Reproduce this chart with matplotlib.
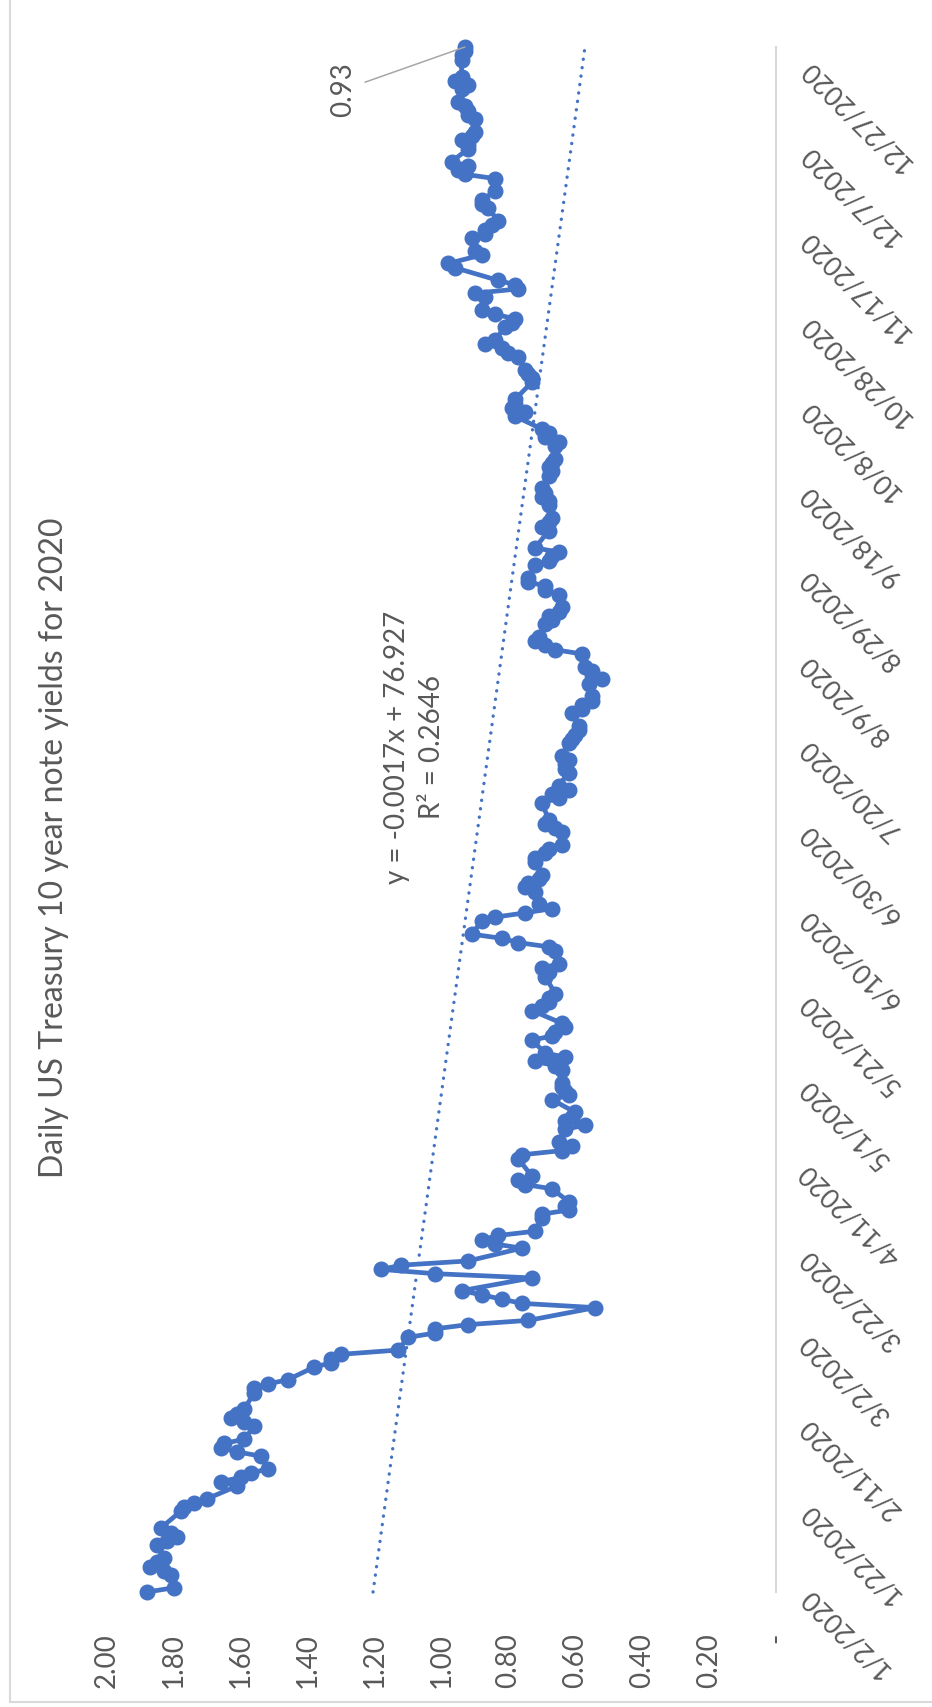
import numpy as np
import pandas as pd
import matplotlib
matplotlib.use('Agg')
import matplotlib.pyplot as plt
from matplotlib.lines import Line2D

plt.rcParams['font.family'] = ['Lato', 'DejaVu Sans']

# daily 10 year note yields (%), one list per month of trading days
jan = [1.88, 1.80, 1.81, 1.83, 1.87, 1.85, 1.83, 1.85, 1.82, 1.79, 1.81, 1.84,
       1.78, 1.77, 1.74, 1.70, 1.61, 1.66, 1.60, 1.57, 1.52]
feb = [1.54, 1.61, 1.66, 1.65, 1.59, 1.56, 1.59, 1.63, 1.61, 1.59, 1.56, 1.56,
       1.52, 1.46, 1.38, 1.33, 1.33, 1.30, 1.13]
mar = [1.10, 1.02, 1.02, 0.92, 0.74, 0.54, 0.76, 0.82, 0.88, 0.94, 0.73, 1.02,
       1.18, 1.12, 0.92, 0.76, 0.84, 0.88, 0.83, 0.72, 0.70, 0.70]
apr = [0.62, 0.63, 0.62, 0.67, 0.75, 0.77, 0.73, 0.77, 0.76, 0.64, 0.61, 0.65,
       0.63, 0.57, 0.63, 0.61, 0.60, 0.67, 0.62, 0.63, 0.64]
may = [0.64, 0.64, 0.66, 0.72, 0.63, 0.69, 0.73, 0.67, 0.66, 0.63, 0.64, 0.73,
       0.70, 0.68, 0.68, 0.66, 0.69, 0.68, 0.70, 0.65]
jun = [0.66, 0.68, 0.77, 0.82, 0.91, 0.88, 0.84, 0.75, 0.67, 0.71, 0.72, 0.75,
       0.74, 0.71, 0.70, 0.72, 0.72, 0.69, 0.68, 0.64, 0.64, 0.66]
jul = [0.69, 0.68, 0.70, 0.65, 0.67, 0.62, 0.65, 0.62, 0.63, 0.63, 0.62, 0.64,
       0.62, 0.61, 0.60, 0.59, 0.59, 0.61, 0.58, 0.58, 0.55, 0.55]
aug = [0.56, 0.52, 0.55, 0.55, 0.57, 0.58, 0.66, 0.69, 0.72, 0.71, 0.69, 0.67,
       0.68, 0.65, 0.64, 0.65, 0.69, 0.69, 0.74, 0.74, 0.72]
sep = [0.68, 0.67, 0.65, 0.72, 0.68, 0.70, 0.68, 0.67, 0.68, 0.68, 0.70, 0.69,
       0.70, 0.68, 0.67, 0.68, 0.67, 0.66, 0.66, 0.65, 0.69]
oct_ = [0.68, 0.70, 0.78, 0.75, 0.79, 0.78, 0.78, 0.73, 0.73, 0.74, 0.75, 0.77,
        0.80, 0.82, 0.87, 0.84, 0.81, 0.79, 0.78, 0.84, 0.88]
nov = [0.87, 0.90, 0.77, 0.78, 0.83, 0.96, 0.98, 0.88, 0.90, 0.91, 0.87, 0.87,
       0.85, 0.83, 0.86, 0.88, 0.88, 0.84, 0.84]
dec = [0.93, 0.95, 0.92, 0.97, 0.92, 0.92, 0.94, 0.91, 0.90, 0.90, 0.92, 0.92,
       0.93, 0.95, 0.94, 0.92, 0.96, 0.94, 0.94, 0.94, 0.93, 0.93]

# bond market closed on these weekdays
holidays = ['2020-01-20', '2020-02-17', '2020-04-10', '2020-05-25', '2020-07-03',
            '2020-09-07', '2020-10-12', '2020-11-11', '2020-11-26', '2020-12-25']

value_ticks = [0.0, 0.2, 0.4, 0.6, 0.8, 1.0, 1.2, 1.4, 1.6, 1.8, 2.0]
date_ticks = pd.date_range('2020-01-02', '2020-12-27', freq='20D')

yields = np.array(jan + feb + mar + apr + may + jun + jul + aug + sep + oct_ + nov + dec)
days = pd.bdate_range('2020-01-02', '2020-12-31')
days = days[~days.isin(pd.to_datetime(holidays))]

blue = '#4472C4'
grey = '#595959'

fig = plt.figure(figsize=(9.32, 17.07), dpi=100)
ax = fig.add_axes([107 / 932, 1 - 1592 / 1707, 669 / 932, 1545 / 1707])

ax.plot(yields, days, color=blue, lw=3.4, marker='o', ms=10.5, mec=blue, mfc=blue,
        solid_joinstyle='round', zorder=3, clip_on=False)

# linear trend on excel serial dates
serial = (days - pd.Timestamp('1899-12-30')).days.values.astype(float)
coef = np.polyfit(serial, yields, 1)
fit = np.polyval(coef, serial)
ends = [0, -1]
ax.plot(fit[ends], days[ends], color=blue, lw=2.4, linestyle=(0, (0.05, 2.5)),
        dash_capstyle='round', zorder=2, clip_on=False)

ax.set_xlim(2.0, 0.0)
ax.set_ylim(days[0], days[-1])

ax.set_xticks(value_ticks, ['-' if v == 0 else f'{v:.2f}' for v in value_ticks],
              rotation=90)
ax.tick_params(axis='x', length=0, pad=29.5, labelsize=20, labelcolor=grey)

ax.yaxis.tick_right()
ax.set_yticks(date_ticks, [f'{d.month}/{d.day}/{d.year}' for d in date_ticks],
              rotation=135, rotation_mode='anchor', ha='right', va='center')
ax.tick_params(axis='y', length=0, pad=20, labelsize=19, labelcolor=grey)

for s in ['top', 'bottom', 'left']:
    ax.spines[s].set_visible(False)
ax.spines['right'].set_color('#d9d9d9')
ax.spines['right'].set_linewidth(1.5)
ax.patch.set_visible(False)

ax.annotate('0.93', xy=(yields[-1], days[-1]), xytext=(-88, -31),
            textcoords='offset points', rotation=90, ha='center', va='center',
            fontsize=20, color=grey,
            arrowprops=dict(arrowstyle='-', color='#a6a6a6', lw=1.1,
                            shrinkA=5, shrinkB=0))

fig.text(397 / 932, 1 - 747 / 1707, 'y = -0.0017x + 76.927', rotation=90,
         ha='center', va='center', fontsize=20, color=grey)
fig.text(432 / 932, 1 - 747 / 1707, 'R² = 0.2646', rotation=90,
         ha='center', va='center', fontsize=20, color=grey)

fig.text(54 / 932, 1 - 848 / 1707, 'Daily US Treasury 10 year note yields for 2020',
         rotation=90, ha='center', va='center', fontsize=23, color=grey)

# chart area border
fig.add_artist(Line2D([10 / 932, 10 / 932], [1 - 1702 / 1707, 1], color='#d9d9d9',
                      lw=1.5, transform=fig.transFigure))
fig.add_artist(Line2D([10 / 932, 1], [1 - 1702 / 1707, 1 - 1702 / 1707],
                      color='#d9d9d9', lw=1.5, transform=fig.transFigure))

fig.savefig('out.png', dpi=100)
